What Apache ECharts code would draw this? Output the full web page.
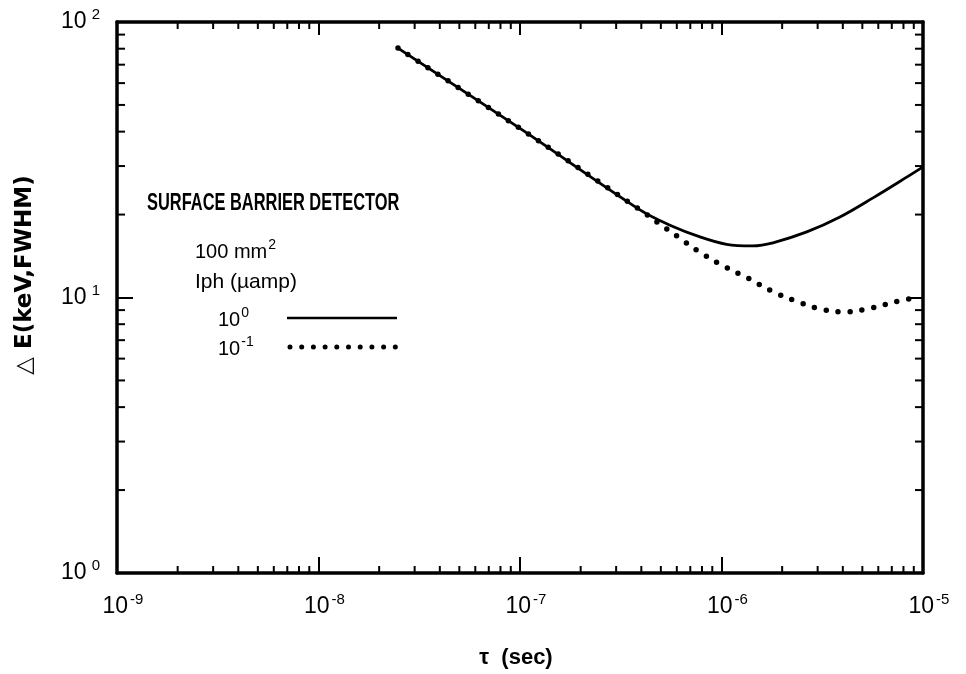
<!DOCTYPE html>
<html><head><meta charset="utf-8">
<script src="https://cdn.jsdelivr.net/npm/echarts@6/dist/echarts.min.js"></script>
<style>html,body{margin:0;padding:0;background:#fff}#c{width:966px;height:674px}</style>
</head><body><div id="c"></div>
<script>
// Iph = 10^0 uA (solid)
const solidTau = [2.48e-8, 1e-7, 3.94e-7, 5.55e-7, 7.82e-7, 1.06e-6, 1.43e-6, 1.80e-6, 2.65e-6, 3.87e-6, 5.65e-6, 8.34e-6, 1e-5];
const solidDE  = [80.4, 41.1, 20.8, 18.3, 16.6, 15.6, 15.4, 15.8, 17.3, 19.6, 23.0, 27.4, 29.8];
// Iph = 10^-1 uA (dotted)
const dottedTau = [2.48e-8, 1e-7, 3.94e-7, 5.25e-7, 6.01e-7, 7.82e-7, 1.006e-6, 1.34e-6, 1.80e-6, 2.40e-6, 3.08e-6, 4.1e-6, 5.52e-6, 7.26e-6, 9.7e-6];
const dottedDE  = [80.4, 41.1, 20.8, 17.9, 16.7, 14.6, 13.1, 11.8, 10.5, 9.63, 9.09, 8.86, 9.16, 9.63, 10.1];
// tick labels (exponents of 10)
const xTickExponents = [-9, -8, -7, -6, -5];
const yTickExponents = [0, 1, 2];
const xMin = 1e-9, xMax = 1e-5, yMin = 1, yMax = 100;
// minor tick positions (2..9 x each decade)
const xMinorTicks = [];
for (let e = -9; e < -5; e++) for (let m = 2; m <= 9; m++) xMinorTicks.push(m * Math.pow(10, e));
const yMinorTicks = [];
for (let e = 0; e < 2; e++) for (let m = 2; m <= 9; m++) yMinorTicks.push(m * Math.pow(10, e));

const FONT = '"Liberation Sans", Arial, sans-serif';
function expLabel(v) {
  const e = Math.round(Math.log10(v));
  return '{b|10}{s|' + e + '}';
}
const chart = echarts.init(document.getElementById('c'), null, {renderer: 'canvas'});
const axisLine = {show: true, onZero: false, lineStyle: {color: '#000', width: 3.5}};
const tickStyle = {color: '#000', width: 2};
const xLabelRich = {
  b: {fontFamily: FONT, fontSize: 23, lineHeight: 29, color: '#000'},
  s: {fontFamily: FONT, fontSize: 15, lineHeight: 16, verticalAlign: 'top', padding: [0, 0, 0, 2], color: '#000'}
};
const yLabelRich = {
  b: {fontFamily: FONT, fontSize: 23, lineHeight: 29, color: '#000'},
  s: {fontFamily: FONT, fontSize: 15, lineHeight: 16, verticalAlign: 'top', padding: [0, 0, 0, 5], color: '#000'}
};
const option = {
  animation: false,
  backgroundColor: '#fff',
  grid: {left: 117, right: 43, top: 22, bottom: 101, containLabel: false, outerBoundsMode: 'none'},
  xAxis: [
    {type: 'log', logBase: 10, min: xMin, max: xMax, position: 'bottom', axisLine,
     axisTick: {show: true, inside: true, length: 16, lineStyle: tickStyle},
     minorTick: {show: false}, splitLine: {show: false},
     axisLabel: {show: true, showMinLabel: true, showMaxLabel: true, margin: 19, padding: [0, 0, 0, 12],
       formatter: expLabel, rich: xLabelRich}},
    {type: 'log', logBase: 10, min: xMin, max: xMax, position: 'top', axisLine,
     axisTick: {show: true, inside: true, length: 13, lineStyle: tickStyle},
     minorTick: {show: false}, splitLine: {show: false}, axisLabel: {show: false}}
  ],
  yAxis: [
    {type: 'log', logBase: 10, min: yMin, max: yMax, position: 'left', axisLine,
     axisTick: {show: true, inside: true, length: 16, lineStyle: tickStyle},
     minorTick: {show: false}, splitLine: {show: false},
     axisLabel: {show: true, showMinLabel: true, showMaxLabel: true, margin: 17,
       formatter: expLabel, rich: yLabelRich}},
    {type: 'log', logBase: 10, min: yMin, max: yMax, position: 'right', axisLine,
     axisTick: {show: true, inside: true, length: 13, lineStyle: tickStyle},
     minorTick: {show: false}, splitLine: {show: false}, axisLabel: {show: false}}
  ],
  graphic: [
    {type: 'text', x: 25, y: 275, rotation: Math.PI / 2,
     style: {text: '\u25B3 E(keV,FWHM)', font: 'bold 23px "DejaVu Sans", sans-serif', fill: '#000', align: 'center', verticalAlign: 'middle'}},
    {type: 'text', x: 516, y: 658,
     style: {text: '\u03C4  (sec)', font: 'bold 22px ' + FONT, fill: '#000', align: 'center', verticalAlign: 'middle'}},
    {type: 'text', x: 147, y: 203, scaleX: 0.684,
     style: {text: 'SURFACE BARRIER DETECTOR', font: 'bold 24px ' + FONT, fill: '#000', align: 'left', verticalAlign: 'middle'}},
    {type: 'text', x: 195, y: 252,
     style: {text: '{a|100 mm}{s|2}', align: 'left', verticalAlign: 'middle',
       rich: {a: {fontFamily: FONT, fontSize: 20, lineHeight: 28, fill: '#000'},
              s: {fontFamily: FONT, fontSize: 14, lineHeight: 14, verticalAlign: 'top', padding: [0, 0, 0, 1], fill: '#000'}}}},
    {type: 'text', x: 195, y: 282,
     style: {text: 'Iph (\u00B5amp)', font: '21px ' + FONT, fill: '#000', align: 'left', verticalAlign: 'middle'}},
    {type: 'text', x: 218, y: 320,
     style: {text: '{a|10}{s|0}', align: 'left', verticalAlign: 'middle',
       rich: {a: {fontFamily: FONT, fontSize: 20, lineHeight: 28, fill: '#000'},
              s: {fontFamily: FONT, fontSize: 14, lineHeight: 14, verticalAlign: 'top', padding: [0, 0, 0, 1], fill: '#000'}}}},
    {type: 'text', x: 218, y: 349,
     style: {text: '{a|10}{s|-1}', align: 'left', verticalAlign: 'middle',
       rich: {a: {fontFamily: FONT, fontSize: 20, lineHeight: 28, fill: '#000'},
              s: {fontFamily: FONT, fontSize: 14, lineHeight: 14, verticalAlign: 'top', padding: [0, 0, 0, 1], fill: '#000'}}}},
    {type: 'line', shape: {x1: 287, y1: 318, x2: 397, y2: 318}, style: {stroke: '#000', lineWidth: 2.5}},
    {type: 'line', shape: {x1: 290, y1: 347, x2: 396, y2: 347}, style: {stroke: '#000', lineWidth: 5, lineDash: [0, 11.7], lineCap: 'round'}}
  ],
  series: [
    {type: 'line', name: '10^0', xAxisIndex: 0, yAxisIndex: 0,
     data: solidTau.map((t, i) => [t, solidDE[i]]),
     showSymbol: false, smooth: 0.35, lineStyle: {color: '#000', width: 2.8}, z: 3},
    {type: 'line', name: '10^-1', xAxisIndex: 0, yAxisIndex: 0,
     data: dottedTau.map((t, i) => [t, dottedDE[i]]),
     showSymbol: false, smooth: 0.35, lineStyle: {color: '#000', width: 5.5, type: [0, 12], cap: 'round'}, z: 4},
    {type: 'custom', name: 'xMinor', xAxisIndex: 0, yAxisIndex: 0, silent: true, clip: false,
     data: xMinorTicks.map(v => [v, yMin]),
     renderItem: function (params, api) {
       const v = api.value(0);
       const pb = api.coord([v, yMin]);
       const pt = api.coord([v, yMax]);
       return {type: 'group', children: [
         {type: 'line', shape: {x1: pb[0], y1: pb[1], x2: pb[0], y2: pb[1] - 7}, style: {stroke: '#000', lineWidth: 2}},
         {type: 'line', shape: {x1: pt[0], y1: pt[1], x2: pt[0], y2: pt[1] + 7}, style: {stroke: '#000', lineWidth: 2}}
       ]};
     }},
    {type: 'custom', name: 'yMinor', xAxisIndex: 0, yAxisIndex: 0, silent: true, clip: false,
     data: yMinorTicks.map(v => [xMin, v]),
     renderItem: function (params, api) {
       const v = api.value(1);
       const pl = api.coord([xMin, v]);
       const pr = api.coord([xMax, v]);
       return {type: 'group', children: [
         {type: 'line', shape: {x1: pl[0], y1: pl[1], x2: pl[0] + 8, y2: pl[1]}, style: {stroke: '#000', lineWidth: 2}},
         {type: 'line', shape: {x1: pr[0], y1: pr[1], x2: pr[0] - 8, y2: pr[1]}, style: {stroke: '#000', lineWidth: 2}}
       ]};
     }}
  ]
};
chart.setOption(option);
</script>
</body></html>
